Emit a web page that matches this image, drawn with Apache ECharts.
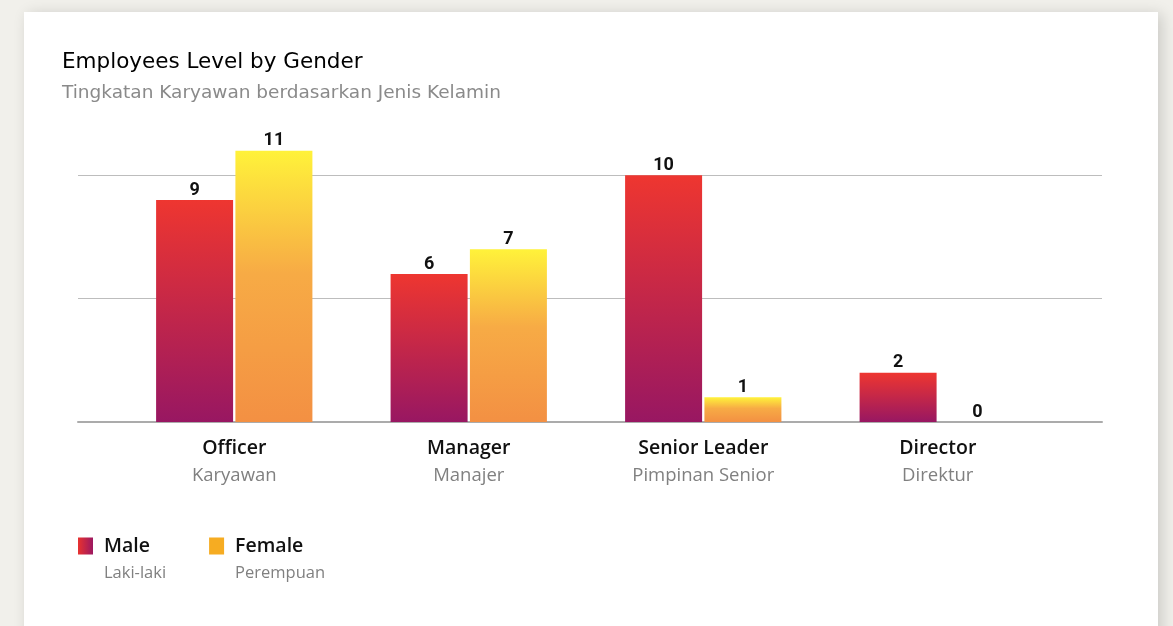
<!DOCTYPE html>
<html>
<head>
<meta charset="utf-8">
<script src="https://cdn.jsdelivr.net/npm/echarts@6/dist/echarts.min.js"></script>
<style>
  html, body { margin: 0; padding: 0; background: #f1f0eb; overflow: hidden; }
  #card {
    position: absolute; left: 24px; top: 12px; width: 1134px; height: 700px;
    background: #fff;
    box-shadow: 4px 2px 14px rgba(0, 0, 0, 0.16);
  }
  #chart { position: absolute; left: 0; top: 0; width: 1173px; height: 626px; }
</style>
</head>
<body>
<div id="card"></div>
<div id="chart"></div>
<script>
// data
const categories = ['Officer', 'Manager', 'Senior Leader', 'Director'];
const categoriesSub = ['Karyawan', 'Manajer', 'Pimpinan Senior', 'Direktur'];
const maleValues = [9, 6, 10, 2];
const femaleValues = [11, 7, 1, 0];
const legendSub = { Male: 'Laki-laki', Female: 'Perempuan' };

const myChart = echarts.init(document.getElementById('chart'), null, { renderer: 'canvas' });

const maleGradient = new echarts.graphic.LinearGradient(0, 0, 0, 1, [
  { offset: 0, color: '#ee3630' },
  { offset: 1, color: '#981762' }
]);
const femaleGradient = new echarts.graphic.LinearGradient(0, 0, 0, 1, [
  { offset: 0, color: '#fff23a' },
  { offset: 0.45, color: '#f7ab45' },
  { offset: 1, color: '#f39043' }
]);

// legend icon: square at the top, invisible point below so it lines up with the first text line
const legendIcon = 'path://M0,0H15V17H0Z M0,44L0,44Z';

const valueLabel = {
  show: true,
  position: 'top',
  distance: 1,
  fontFamily: 'Roboto',
  fontWeight: 'bold',
  fontSize: 18,
  color: '#111'
};

let option = {
  animation: false,
  title: {
    text: 'Employees Level by Gender',
    subtext: 'Tingkatan Karyawan berdasarkan Jenis Kelamin',
    left: 62,
    top: 51,
    padding: 0,
    itemGap: 11,
    textStyle: { fontFamily: 'DejaVu Sans', fontWeight: 'normal', fontSize: 21.5, color: '#000' },
    subtextStyle: { fontFamily: 'DejaVu Sans', fontSize: 18.5, color: '#8a8a8a' }
  },
  legend: {
    left: 78,
    top: 536,
    padding: 0,
    itemWidth: 15,
    itemHeight: 44,
    itemGap: 43,
    selectedMode: false,
    data: [
      {
        name: 'Male', icon: legendIcon,
        itemStyle: {
          color: new echarts.graphic.LinearGradient(0, 0, 1, 0, [
            { offset: 0, color: '#e8322f' }, { offset: 1, color: '#9c1861' }
          ])
        }
      },
      { name: 'Female', icon: legendIcon, itemStyle: { color: '#f6ac22' } }
    ],
    formatter: function (name) {
      return '{a|' + name + '}\n{b|' + legendSub[name] + '}';
    },
    textStyle: {
      rich: {
        a: { fontFamily: 'Open Sans', fontWeight: 600, fontSize: 19.5, color: '#111', lineHeight: 27, padding: [0, 0, 0, 6] },
        b: { fontFamily: 'Open Sans', fontSize: 16.5, color: '#808080', lineHeight: 27, padding: [0, 0, 0, 6] }
      }
    }
  },
  grid: [
    { left: 78, right: 71, top: 126, bottom: 204 },
    { left: 117, right: 118, top: 126, bottom: 204 }
  ],
  xAxis: [
    {
      gridIndex: 0, type: 'category', data: categories,
      axisLine: { show: true, lineStyle: { color: '#ababab', width: 2 } },
      axisTick: { show: false }, axisLabel: { show: false }
    },
    {
      gridIndex: 1, type: 'category', data: categories,
      axisLine: { show: false }, axisTick: { show: false },
      axisLabel: {
        margin: 12,
        formatter: function (value, idx) {
          return '{a|' + value + '}\n{b|' + categoriesSub[idx] + '}';
        },
        rich: {
          a: { fontFamily: 'Open Sans', fontWeight: 600, fontSize: 19.5, color: '#111', lineHeight: 28 },
          b: { fontFamily: 'Open Sans', fontSize: 18.5, color: '#808080', lineHeight: 28 }
        }
      }
    }
  ],
  yAxis: [
    {
      gridIndex: 0, type: 'value', min: 0, max: 12, interval: 5,
      axisLabel: { show: false }, axisLine: { show: false }, axisTick: { show: false },
      splitLine: { show: true, showMinLine: false, showMaxLine: false, lineStyle: { color: '#bdbdbd', width: 1 } }
    },
    {
      gridIndex: 1, type: 'value', min: 0, max: 12, interval: 5,
      axisLabel: { show: false }, axisLine: { show: false }, axisTick: { show: false },
      splitLine: { show: false }
    }
  ],
  series: [
    {
      name: 'Male', type: 'bar', xAxisIndex: 1, yAxisIndex: 1,
      data: maleValues, barWidth: 77, barGap: '3%',
      itemStyle: { color: maleGradient },
      label: valueLabel, z: 3
    },
    {
      name: 'Female', type: 'bar', xAxisIndex: 1, yAxisIndex: 1,
      data: femaleValues, barWidth: 77, barGap: '3%',
      itemStyle: { color: femaleGradient },
      label: valueLabel, z: 3
    }
  ]
};

option && myChart.setOption(option);
</script>
</body>
</html>
